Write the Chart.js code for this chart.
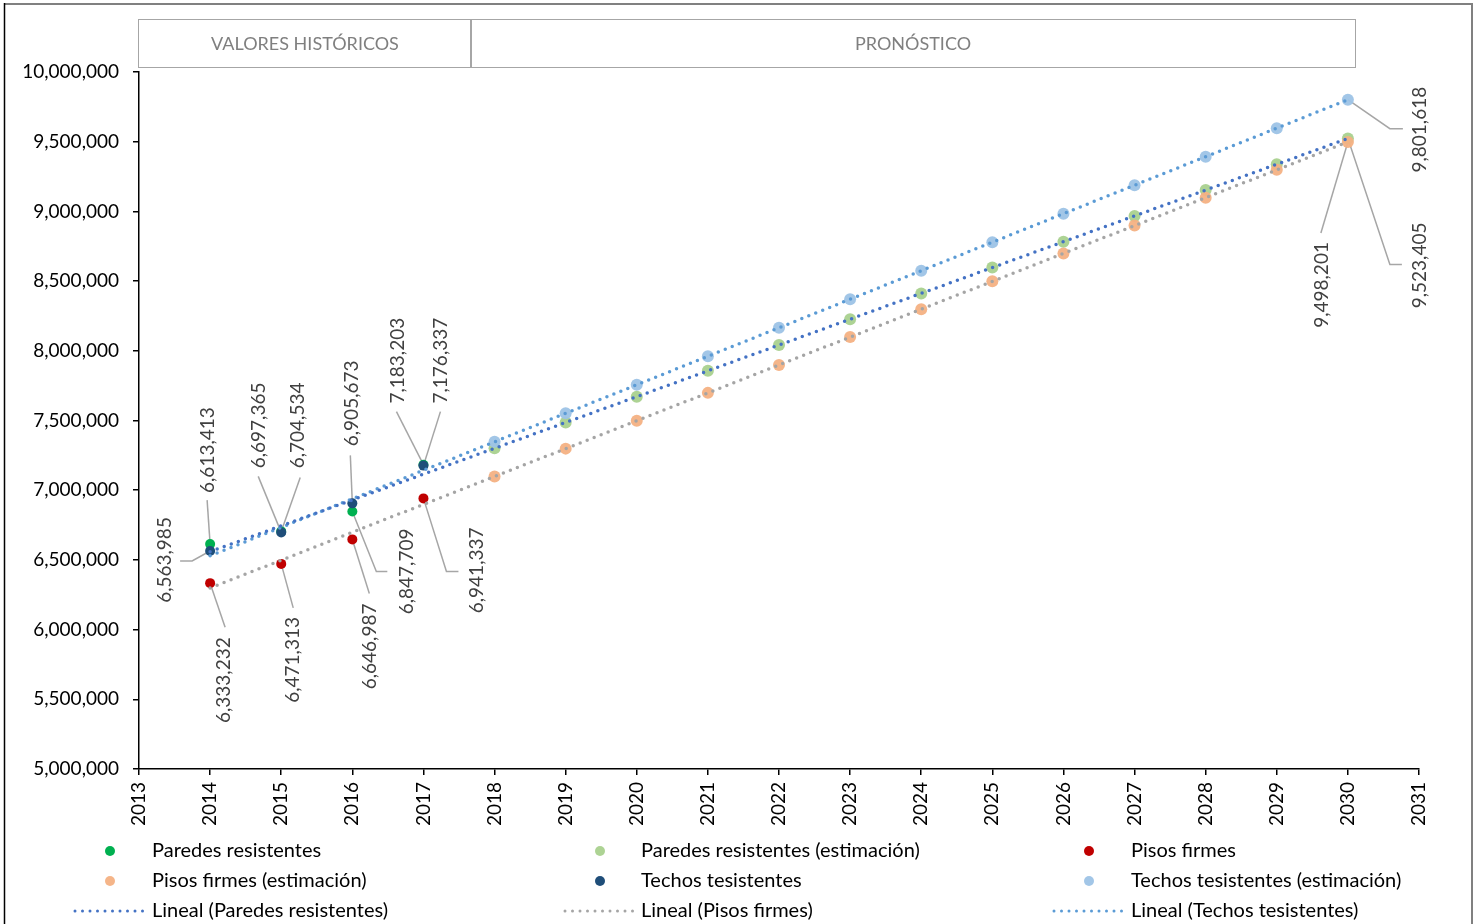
<!DOCTYPE html>
<html>
<head>
<meta charset="utf-8">
<script src="https://cdn.jsdelivr.net/npm/chart.js@4.4.1/dist/chart.umd.min.js"></script>
<style>
  html, body { margin: 0; padding: 0; background: #ffffff; }
  #wrap { width: 1477px; height: 924px; position: relative; }
</style>
</head>
<body>
<div id="wrap"><canvas id="c" width="1477" height="924"></canvas></div>
<script>
// Historical years and forecast years
const histYears = [2014, 2015, 2016, 2017];
const forecastYears = [2018, 2019, 2020, 2021, 2022, 2023, 2024, 2025, 2026, 2027, 2028, 2029, 2030];
const trendYears = [2014, 2030];

// Historical values
const paredes = [6613413, 6704534, 6847709, 7183203];
const pisos = [6333232, 6471313, 6646987, 6941337];
const techos = [6563985, 6697365, 6905673, 7176337];

// Forecast values
const paredesEst = [7300351, 7485606, 7670860, 7856115, 8041369, 8226624, 8411878, 8597133, 8782387, 8967642, 9152896, 9338151, 9523405];
const pisosEst = [7098215, 7298213, 7498212, 7698211, 7898210, 8098209, 8298208, 8498207, 8698206, 8898205, 9098204, 9298202, 9498201];
const techosEst = [7347181, 7551717, 7756254, 7960790, 8165327, 8369863, 8574399, 8778936, 8983472, 9188009, 9392545, 9597081, 9801618];

// Linear trend lines (start and end values)
const paredesTrend = [6559333, 9523405];
const pisosTrend = [6298219, 9498201];
const techosTrend = [6529035, 9801618];

// Axis ticks
const yTickMin = 5000000, yTickMax = 10000000, yTickStep = 500000;
const xTickMin = 2013, xTickMax = 2031;

// Header sections above the plot
const headerSections = [
  { label: 'VALORES HISTÓRICOS', from: 2013, to: 2017.67 },
  { label: 'PRONÓSTICO', from: 2017.67, to: 2030.1 }
];

const FONT = "Lato, 'Open Sans', 'Liberation Sans', sans-serif";
Chart.defaults.font.family = FONT;

const pts = (xs, ys) => xs.map((x, i) => ({ x: x, y: ys[i] }));

const datasets = [
  { key: 'paredes', label: 'Paredes resistentes', data: pts(histYears, paredes),
    backgroundColor: '#00B050', borderColor: '#00B050', pointRadius: 5, order: 2 },
  { key: 'paredesEst', label: 'Paredes resistentes (estimación)', data: pts(forecastYears, paredesEst),
    backgroundColor: 'rgba(169,209,142,0.95)', borderColor: 'rgba(169,209,142,0.95)', pointRadius: 6, order: 4 },
  { key: 'pisos', label: 'Pisos firmes', data: pts(histYears, pisos),
    backgroundColor: '#C00000', borderColor: '#C00000', pointRadius: 5, order: 2 },
  { key: 'pisosEst', label: 'Pisos firmes (estimación)', data: pts(forecastYears, pisosEst),
    backgroundColor: 'rgba(244,177,131,0.95)', borderColor: 'rgba(244,177,131,0.95)', pointRadius: 6, order: 3 },
  { key: 'techos', label: 'Techos tesistentes', data: pts(histYears, techos),
    backgroundColor: '#1F4E79', borderColor: '#1F4E79', pointRadius: 5, order: 1 },
  { key: 'techosEst', label: 'Techos tesistentes (estimación)', data: pts(forecastYears, techosEst),
    backgroundColor: 'rgba(157,195,230,0.95)', borderColor: 'rgba(157,195,230,0.95)', pointRadius: 6, order: 3 },
  { key: 'paredesLin', label: 'Lineal (Paredes resistentes)', data: pts(trendYears, paredesTrend), isTrend: true,
    showLine: true, pointRadius: 0, borderColor: '#4472C4', backgroundColor: '#4472C4',
    borderWidth: 3.5, borderDash: [0, 7.5], borderCapStyle: 'round', order: 0 },
  { key: 'pisosLin', label: 'Lineal (Pisos firmes)', data: pts(trendYears, pisosTrend), isTrend: true,
    showLine: true, pointRadius: 0, borderColor: '#A5A5A5', backgroundColor: '#A5A5A5',
    borderWidth: 3.5, borderDash: [0, 7.5], borderCapStyle: 'round', order: 0 },
  { key: 'techosLin', label: 'Lineal (Techos tesistentes)', data: pts(trendYears, techosTrend), isTrend: true,
    showLine: true, pointRadius: 0, borderColor: '#5B9BD5', backgroundColor: '#5B9BD5',
    borderWidth: 3.5, borderDash: [0, 7.5], borderCapStyle: 'round', order: 0 }
];
datasets.forEach(d => { d.pointBorderWidth = 0; d.pointHoverRadius = d.pointRadius; });

// Value labels: text centre offset and leader path (pixel offsets from the marker)
const valueLabels = [
  { ds: 'paredes', i: 0, dx: -2, dy: -94, leader: [[-3, -44], [0, 0]] },
  { ds: 'techos', i: 0, dx: -45, dy: 9, leader: [[-30, 10], [-18, 10], [0, 0]] },
  { ds: 'techos', i: 1, dx: -22, dy: -107, leader: [[-23, -56], [0, 0]] },
  { ds: 'paredes', i: 1, dx: 17, dy: -106, leader: [[19, -54], [0, 0]] },
  { ds: 'techos', i: 2, dx: 0, dy: -100, leader: [[-2, -48], [0, 0]] },
  { ds: 'paredes', i: 2, dx: 55, dy: 60, leader: [[0, 0], [24, 60], [35, 60]] },
  { ds: 'paredes', i: 3, dx: -26, dy: -104, leader: [[-27, -53], [0, 0]] },
  { ds: 'techos', i: 3, dx: 17, dy: -105, leader: [[17, -54], [0, 0]] },
  { ds: 'pisos', i: 3, dx: 53, dy: 72, leader: [[0, 0], [23, 73], [35, 73]] },
  { ds: 'pisos', i: 2, dx: 18, dy: 107, leader: [[0, 0], [17, 54]] },
  { ds: 'pisos', i: 1, dx: 12, dy: 96, leader: [[0, 0], [12, 44]] },
  { ds: 'pisos', i: 0, dx: 14, dy: 97, leader: [[0, 0], [15, 44]] },
  { ds: 'techosEst', i: 12, dx: 72, dy: 30, leader: [[0, 0], [42, 29], [55, 29]] },
  { ds: 'pisosEst', i: 12, dx: -26, dy: 143, leader: [[0, 0], [-27, 91]] },
  { ds: 'paredesEst', i: 12, dx: 72, dy: 127, leader: [[0, 0], [42, 126], [54, 126]] }
];

const fmt = v => Math.round(v).toLocaleString('en-US');

function pointOf(chart, key, i) {
  const idx = chart.data.datasets.findIndex(d => d.key === key);
  const el = chart.getDatasetMeta(idx).data[i];
  return { x: el.x, y: el.y, v: chart.data.datasets[idx].data[i].y };
}

// Outer frame
const framePlugin = {
  id: 'frame',
  beforeDraw(chart) {
    const c = chart.ctx;
    c.save();
    c.fillStyle = '#ffffff';
    c.fillRect(0, 0, chart.width, chart.height);
    c.lineWidth = 2;
    c.strokeStyle = '#808080';
    c.beginPath();
    c.moveTo(4, 4); c.lineTo(1472, 4); c.lineTo(1472, chart.height);
    c.stroke();
    c.strokeStyle = '#000000';
    c.lineWidth = 1.5;
    c.beginPath();
    c.moveTo(4.5, 3); c.lineTo(4.5, chart.height);
    c.stroke();
    c.restore();
  }
};

// Header boxes
const headerPlugin = {
  id: 'header',
  afterDraw(chart) {
    const c = chart.ctx, xs = chart.scales.x;
    c.save();
    headerSections.forEach(s => {
      const x0 = Math.round(xs.getPixelForValue(s.from)) - 0.5;
      const x1 = Math.round(xs.getPixelForValue(s.to)) + 0.5;
      c.strokeStyle = '#A6A6A6';
      c.lineWidth = 1;
      c.strokeRect(x0, 19.5, x1 - x0, 48);
      c.fillStyle = '#7F7F7F';
      c.font = '18px ' + FONT;
      c.textAlign = 'center';
      c.textBaseline = 'middle';
      c.fillText(s.label, (x0 + x1) / 2, 44);
    });
    c.restore();
  }
};

// Leader lines and rotated value labels
const valueLabelPlugin = {
  id: 'valueLabels',
  beforeDatasetsDraw(chart) {
    const c = chart.ctx;
    c.save();
    c.strokeStyle = '#A6A6A6';
    c.lineWidth = 1.5;
    valueLabels.forEach(l => {
      const p = pointOf(chart, l.ds, l.i);
      c.beginPath();
      l.leader.forEach((o, k) => {
        const px = p.x + o[0], py = p.y + o[1];
        if (k === 0) c.moveTo(px, py); else c.lineTo(px, py);
      });
      c.stroke();
    });
    c.restore();
  },
  afterDatasetsDraw(chart) {
    const c = chart.ctx;
    c.save();
    c.fillStyle = '#404040';
    c.font = '19px ' + FONT;
    c.textAlign = 'center';
    c.textBaseline = 'middle';
    valueLabels.forEach(l => {
      const p = pointOf(chart, l.ds, l.i);
      c.save();
      c.translate(p.x + l.dx, p.y + l.dy);
      c.rotate(-Math.PI / 2);
      c.fillText(fmt(p.v), 0, 0);
      c.restore();
    });
    c.restore();
  }
};

// Three-column legend under the axis
const legendCols = [
  { marker: 110, text: 152, lineFrom: 75, lineTo: 147 },
  { marker: 600, text: 641, lineFrom: 565, lineTo: 636 },
  { marker: 1089, text: 1131, lineFrom: 1054, lineTo: 1125 }
];
const legendRows = [851, 881, 911];

const gridLegendPlugin = {
  id: 'gridLegend',
  afterDraw(chart) {
    const c = chart.ctx;
    c.save();
    chart.data.datasets.forEach((d, i) => {
      const col = legendCols[i % 3], y = legendRows[Math.floor(i / 3)];
      if (d.isTrend) {
        c.strokeStyle = d.borderColor;
        c.lineWidth = 3;
        c.lineCap = 'round';
        c.setLineDash([0, 7.5]);
        c.beginPath();
        c.moveTo(col.lineFrom, y);
        c.lineTo(col.lineTo, y);
        c.stroke();
        c.setLineDash([]);
      } else {
        c.fillStyle = d.backgroundColor;
        c.beginPath();
        c.arc(col.marker, y, 5, 0, Math.PI * 2);
        c.fill();
      }
      c.fillStyle = '#000000';
      c.font = '20px ' + FONT;
      c.textAlign = 'left';
      c.textBaseline = 'middle';
      c.fillText(d.label, col.text, y);
    });
    c.restore();
  }
};

new Chart(document.getElementById('c').getContext('2d'), {
  type: 'scatter',
  data: { datasets: datasets },
  options: {
    responsive: false,
    animation: false,
    events: [],
    layout: { padding: { top: 72, right: 58, left: 0, bottom: 0 } },
    elements: { line: { tension: 0 } },
    plugins: { legend: { display: false }, tooltip: { enabled: false } },
    scales: {
      x: {
        type: 'linear',
        min: xTickMin,
        max: xTickMax,
        afterFit(s) { s.height = 155; },
        border: { display: true, color: '#000000', width: 1.5 },
        grid: { drawOnChartArea: false, drawTicks: true, tickLength: 6, color: '#000000', lineWidth: 1.5 },
        ticks: {
          stepSize: 1,
          autoSkip: false,
          minRotation: 90,
          maxRotation: 90,
          padding: 7,
          color: '#000000',
          font: { size: 19, family: FONT },
          callback: v => String(v)
        }
      },
      y: {
        type: 'linear',
        min: yTickMin,
        max: yTickMax,
        afterFit(s) { s.width = 139; },
        border: { display: true, color: '#000000', width: 1.5 },
        grid: { drawOnChartArea: false, drawTicks: true, tickLength: 6, color: '#000000', lineWidth: 1.5 },
        ticks: {
          stepSize: yTickStep,
          padding: 14,
          color: '#000000',
          font: { size: 19, family: FONT },
          callback: v => Number(v).toLocaleString('en-US')
        }
      }
    }
  },
  plugins: [framePlugin, valueLabelPlugin, headerPlugin, gridLegendPlugin]
});
</script>
</body>
</html>
